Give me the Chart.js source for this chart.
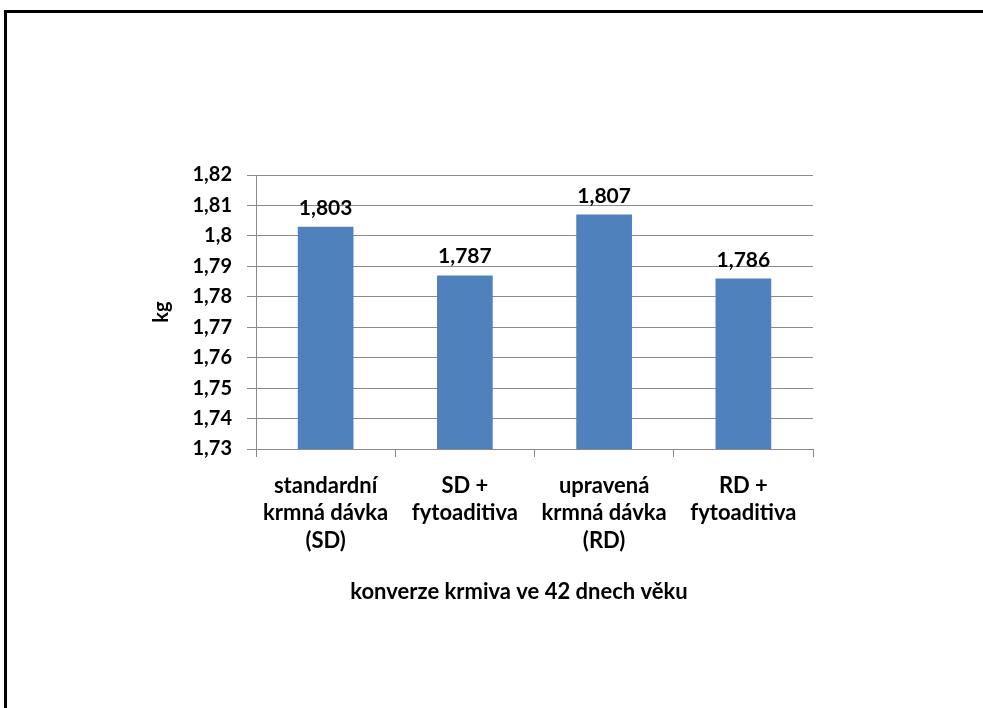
<!DOCTYPE html>
<html>
<head>
<meta charset="utf-8">
<script src="https://cdn.jsdelivr.net/npm/chart.js@4.4.1/dist/chart.umd.min.js"></script>
<style>
  html, body { margin: 0; padding: 0; background: #fff; overflow: hidden; }
  #frame { position: absolute; left: 4px; top: 10px; width: 990px; height: 710px;
           border-left: 3px solid #000; border-top: 3px solid #000; }
  #wrap { position: absolute; left: 0; top: 0; width: 983px; height: 708px; }
</style>
</head>
<body>
<div id="frame"></div>
<div id="wrap"><canvas id="feedChart" width="983" height="708"></canvas></div>
<script>
const categories = [
    ['standardní', 'krmná dávka', '(SD)'],
    ['SD +', 'fytoaditiva'],
    ['upravená', 'krmná dávka', '(RD)'],
    ['RD +', 'fytoaditiva']
]
const values = [1.803, 1.787, 1.807, 1.786]
const yMin = 1.73
const yMax = 1.82
const yStep = 0.01

const ctx = document.getElementById('feedChart').getContext('2d')
const font = 'Lato'
const grey = '#8a8a8a'

const comma = (v, d) => Number(v.toFixed(d)).toString().replace('.', ',')

// value labels above each bar
const barLabels = {
    id: 'barLabels',
    afterDatasetsDraw(chart) {
        const c = chart.ctx
        const meta = chart.getDatasetMeta(0)
        c.save()
        c.font = 'bold 21px ' + font
        c.fillStyle = '#000'
        c.textAlign = 'center'
        c.textBaseline = 'alphabetic'
        meta.data.forEach((bar, i) => {
            c.fillText(comma(values[i], 3), bar.x, bar.y - 12)
        })
        c.restore()
    }
}

new Chart(ctx, {
    type: 'bar',
    data: {
        labels: categories,
        datasets: [{
            data: values,
            backgroundColor: '#4f81bd',
            barPercentage: 0.4,
            categoryPercentage: 1
        }]
    },
    plugins: [barLabels],
    options: {
        responsive: false,
        animation: false,
        layout: { padding: { left: 148, right: 93, top: 175, bottom: 100 } },
        plugins: {
            legend: { display: false },
            tooltip: { enabled: false },
            title: {
                display: true,
                position: 'bottom',
                text: 'konverze krmiva ve 42 dnech věku',
                color: '#000',
                font: { family: font, size: 22, weight: 'bold', lineHeight: 1.2 },
                padding: { top: 0, bottom: 3.3 }
            }
        },
        scales: {
            x: {
                afterFit(scale) { scale.height = 129.3 },
                grid: { display: true, drawOnChartArea: false, drawTicks: true, tickLength: 8, color: grey, offset: true },
                border: { display: true, color: grey },
                ticks: {
                    color: '#000',
                    padding: 15,
                    maxRotation: 0,
                    autoSkip: false,
                    font: { family: font, size: 22, weight: 'bold', lineHeight: 1.25 }
                }
            },
            y: {
                min: yMin,
                max: yMax,
                afterFit(scale) { scale.width = 108 },
                grid: { color: grey, tickLength: 9 },
                border: { display: true, color: grey },
                title: {
                    display: true,
                    text: 'kg',
                    color: '#000',
                    font: { family: font, size: 20, weight: 'bold' },
                    padding: { top: 2, bottom: 0 }
                },
                ticks: {
                    stepSize: yStep,
                    color: '#000',
                    padding: 15,
                    font: { family: font, size: 20, weight: 'bold' },
                    callback: v => comma(v, 2)
                }
            },
            // empty spacer on the right so the bottom title sits left of the plot centre
            spacer: {
                type: 'linear',
                axis: 'y',
                position: 'right',
                afterFit(scale) { scale.width = 77 },
                grid: { display: false },
                border: { display: false },
                ticks: { display: false }
            }
        }
    }
})
</script>
</body>
</html>
